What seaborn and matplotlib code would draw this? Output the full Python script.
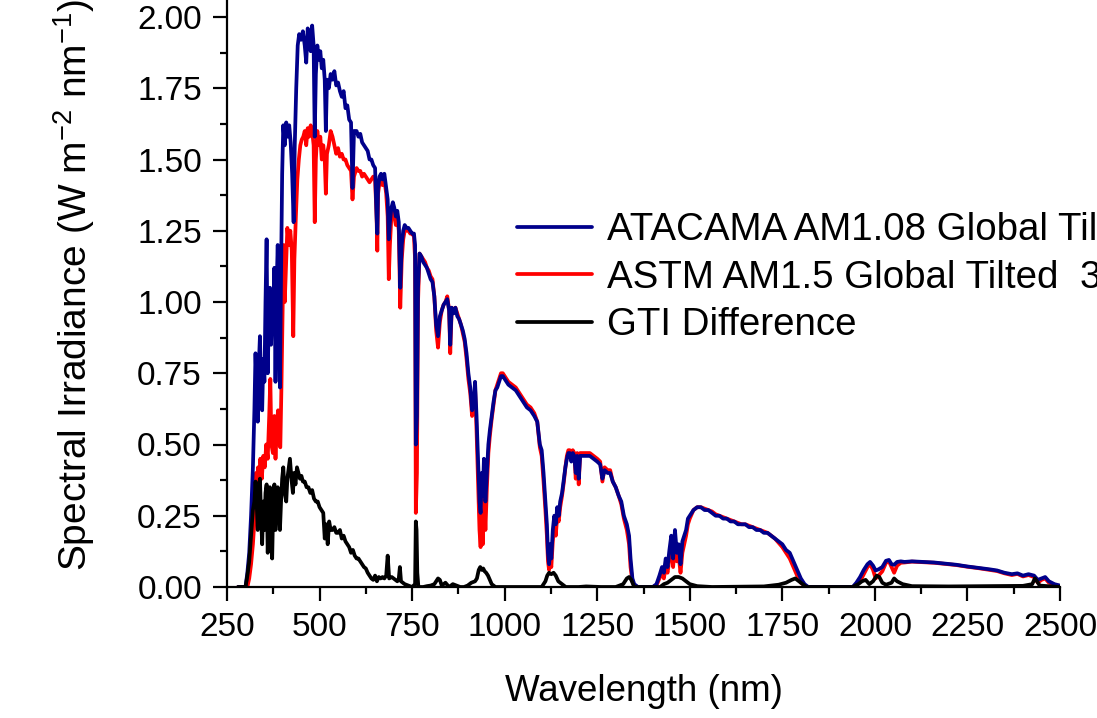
import matplotlib
matplotlib.use("Agg")
import matplotlib.pyplot as plt
from matplotlib.ticker import MultipleLocator, FormatStrFormatter
import seaborn as sns
import pandas as pd

# ---------------- data ----------------
atacama_points = [
    (280,0),(300,0),(305,0.05),(310,0.12),(315,0.25),(320,0.42),(324,0.62),(327,0.82),(330,0.7),(333,0.58),
    (336,0.78),(339,0.88),(342,0.7),(345,0.62),(348,0.8),(351,0.72),(354,1.0),(357,1.22),(360,0.75),(363,0.95),
    (366,1.05),(369,0.85),(372,1.0),(375,0.9),(378,1.12),(381,0.72),(384,1.05),(387,1.2),(390,0.95),(393,0.7),
    (396,1.1),(399,1.45),(402,1.62),(406,1.55),(410,1.63),(414,1.58),(418,1.62),(422,1.56),(426,1.45),(430,1.28),
    (433,1.55),(437,1.75),(441,1.9),(445,1.94),(450,1.92),(455,1.95),(460,1.9),(464,1.84),(468,1.96),(472,1.93),
    (476,1.88),(480,1.97),(484,1.9),(487,1.58),(490,1.8),(494,1.9),(498,1.85),(502,1.88),(506,1.82),(510,1.85),
    (514,1.78),(517,1.6),(520,1.78),(525,1.75),(530,1.8),(535,1.78),(540,1.81),(545,1.76),(550,1.77),(555,1.74),
    (560,1.72),(565,1.74),(570,1.68),(575,1.69),(580,1.64),(585,1.63),(589,1.4),(593,1.6),(600,1.6),(605,1.58),
    (610,1.59),(615,1.56),(620,1.55),(625,1.54),(630,1.53),(635,1.5),(640,1.5),(645,1.48),(650,1.47),(654,1.3),
    (656,1.24),(658,1.4),(662,1.44),(666,1.45),(670,1.43),(675,1.45),(680,1.4),(684,1.36),(687,1.22),(690,1.28),
    (694,1.33),(698,1.35),(702,1.33),(706,1.3),(710,1.32),(714,1.28),(718,1.05),(722,1.2),(726,1.25),(730,1.27),
    (735,1.26),(740,1.26),(745,1.25),(750,1.24),(755,1.24),(758,1.2),(760,0.5),(763,0.6),(766,1.05),(770,1.17),
    (775,1.16),(780,1.14),(785,1.13),(790,1.12),(795,1.1),(800,1.08),(805,1.07),(810,1.02),(815,0.92),(820,0.88),
    (825,0.95),(830,0.97),(835,0.99),(840,1.0),(845,1.01),(850,0.97),(853,0.85),(857,0.98),(862,0.96),(867,0.98),
    (872,0.95),(877,0.94),(882,0.92),(887,0.9),(892,0.87),(897,0.82),(902,0.75),(907,0.7),(912,0.62),(916,0.64),
    (920,0.72),(924,0.6),(928,0.45),(932,0.3),(935,0.26),(938,0.4),(941,0.32),(944,0.45),(948,0.3),(952,0.4),
    (956,0.5),(960,0.55),(965,0.6),(970,0.65),(975,0.69),(980,0.7),(985,0.72),(990,0.74),(995,0.74),(1000,0.73),
    (1010,0.71),(1020,0.7),(1030,0.69),(1040,0.67),(1050,0.65),(1060,0.63),(1070,0.62),(1080,0.6),(1088,0.58),(1095,0.5),
    (1100,0.48),(1105,0.4),(1110,0.3),(1114,0.22),(1117,0.12),(1120,0.08),(1123,0.15),(1126,0.1),(1130,0.2),(1134,0.25),
    (1138,0.22),(1142,0.28),(1146,0.25),(1150,0.3),(1155,0.33),(1160,0.38),(1164,0.42),(1168,0.45),(1172,0.47),(1176,0.47),
    (1180,0.44),(1184,0.47),(1188,0.46),(1192,0.4),(1196,0.46),(1200,0.38),(1204,0.46),(1210,0.46),(1220,0.46),(1230,0.46),
    (1240,0.45),(1250,0.44),(1258,0.43),(1264,0.38),(1270,0.41),(1278,0.4),(1285,0.4),(1292,0.37),(1300,0.35),(1308,0.32),
    (1315,0.3),(1322,0.25),(1330,0.22),(1336,0.18),(1340,0.1),(1345,0.03),(1350,0.01),(1360,0),(1400,0),(1410,0.01),
    (1418,0.04),(1425,0.07),(1430,0.05),(1435,0.1),(1440,0.07),(1445,0.13),(1450,0.18),(1455,0.1),(1460,0.2),(1465,0.12),
    (1470,0.15),(1475,0.08),(1480,0.16),(1485,0.18),(1490,0.2),(1495,0.24),(1500,0.25),(1510,0.27),(1520,0.28),(1530,0.28),
    (1540,0.27),(1550,0.27),(1560,0.26),(1570,0.25),(1580,0.25),(1590,0.24),(1600,0.24),(1610,0.23),(1620,0.23),(1630,0.22),
    (1640,0.22),(1650,0.22),(1660,0.21),(1670,0.21),(1680,0.2),(1690,0.2),(1700,0.19),(1710,0.19),(1720,0.18),(1730,0.17),
    (1740,0.16),(1750,0.15),(1760,0.13),(1770,0.12),(1780,0.09),(1790,0.06),(1800,0.03),(1810,0.01),(1820,0),(1940,0),
    (1950,0.015),(1960,0.035),(1970,0.06),(1980,0.08),(1987,0.088),(1995,0.075),(2002,0.058),(2010,0.062),(2020,0.07),(2030,0.092),
    (2038,0.095),(2045,0.08),(2052,0.078),(2060,0.088),(2070,0.09),(2080,0.088),(2100,0.09),(2130,0.088),(2160,0.086),(2190,0.082),
    (2220,0.078),(2250,0.072),(2280,0.067),(2310,0.062),(2330,0.058),(2350,0.05),(2370,0.045),(2385,0.048),(2400,0.04),(2415,0.045),
    (2430,0.04),(2440,0.025),(2450,0.03),(2460,0.035),(2470,0.02),(2485,0.01),(2500,0.005),
]

astm_points = [
    (280,0),(300,0),(305,0.0),(310,0.03),(315,0.08),(320,0.15),(325,0.25),(328,0.4),(331,0.3),(334,0.42),
    (337,0.35),(340,0.45),(344,0.38),(348,0.46),(352,0.42),(356,0.5),(360,0.45),(364,0.6),(367,0.73),(370,0.5),
    (374,0.47),(378,0.6),(381,0.45),(384,0.56),(388,0.62),(391,0.5),(394,0.49),(397,0.7),(400,0.95),(403,1.2),
    (406,1.0),(410,1.15),(413,1.26),(417,1.2),(421,1.25),(425,1.18),(429,0.88),(432,1.15),(436,1.3),(440,1.43),
    (444,1.5),(448,1.55),(452,1.57),(456,1.58),(460,1.6),(464,1.55),(468,1.61),(472,1.58),(476,1.62),(480,1.6),
    (484,1.55),(487,1.28),(490,1.5),(494,1.6),(498,1.55),(502,1.58),(506,1.5),(510,1.55),(514,1.5),(517,1.38),
    (520,1.52),(525,1.55),(530,1.6),(535,1.58),(540,1.55),(545,1.52),(550,1.54),(555,1.51),(560,1.52),(565,1.5),
    (570,1.5),(575,1.48),(580,1.47),(585,1.46),(589,1.36),(593,1.44),(600,1.47),(605,1.46),(610,1.46),(615,1.44),
    (620,1.45),(625,1.44),(630,1.43),(635,1.42),(640,1.43),(645,1.44),(650,1.43),(654,1.3),(656,1.18),(658,1.38),
    (662,1.42),(666,1.43),(670,1.41),(675,1.43),(680,1.38),(684,1.3),(687,1.08),(690,1.2),(694,1.3),(698,1.33),
    (702,1.3),(706,1.27),(710,1.3),(714,1.25),(718,0.98),(722,1.15),(726,1.22),(730,1.25),(735,1.25),(740,1.25),
    (745,1.24),(750,1.24),(755,1.23),(758,1.15),(760,0.26),(763,0.4),(766,1.0),(770,1.17),
    (775,1.16),(780,1.15),(785,1.14),(790,1.12),(795,1.11),(800,1.09),(805,1.08),(810,1.02),(815,0.9),(820,0.84),
    (825,0.93),(830,0.97),(835,0.99),(840,1.0),(845,1.02),(850,0.97),(853,0.82),(857,0.98),(862,0.97),(867,0.98),
    (872,0.96),(877,0.94),(882,0.92),(887,0.89),(892,0.86),(897,0.8),(902,0.73),(907,0.68),(912,0.6),(916,0.62),
    (920,0.7),(924,0.55),(928,0.38),(932,0.2),(935,0.14),(938,0.3),(941,0.15),(944,0.35),(948,0.2),(952,0.35),
    (956,0.47),(960,0.53),(965,0.59),(970,0.64),(975,0.69),(980,0.71),(985,0.73),(990,0.75),(995,0.75),(1000,0.74),
    (1010,0.72),(1020,0.71),(1030,0.7),(1040,0.68),(1050,0.66),(1060,0.64),(1070,0.63),(1080,0.61),(1088,0.58),(1095,0.49),
    (1100,0.46),(1105,0.37),(1110,0.27),(1114,0.18),(1117,0.09),(1120,0.06),(1123,0.1),(1126,0.07),(1130,0.16),(1134,0.22),
    (1138,0.18),(1142,0.25),(1146,0.23),(1150,0.28),(1155,0.32),(1160,0.37),(1164,0.42),(1168,0.46),(1172,0.48),(1176,0.48),
    (1180,0.45),(1184,0.48),(1188,0.47),(1192,0.38),(1196,0.47),(1200,0.36),(1204,0.47),(1210,0.47),(1220,0.47),(1230,0.47),
    (1240,0.46),(1250,0.45),(1258,0.44),(1264,0.37),(1270,0.42),(1278,0.41),(1285,0.41),(1292,0.37),(1300,0.35),(1308,0.32),
    (1315,0.29),(1322,0.24),(1330,0.2),(1336,0.15),(1340,0.07),(1345,0.02),(1350,0.005),(1360,0),(1400,0),(1410,0.005),
    (1418,0.03),(1425,0.05),(1430,0.03),(1435,0.07),(1440,0.05),(1445,0.1),(1450,0.15),(1455,0.07),(1460,0.16),(1465,0.09),
    (1470,0.11),(1475,0.05),(1480,0.12),(1485,0.15),(1490,0.18),(1495,0.22),(1500,0.24),(1510,0.27),(1520,0.28),(1530,0.28),
    (1540,0.275),(1550,0.27),(1560,0.265),(1570,0.255),(1580,0.25),(1590,0.245),(1600,0.24),(1610,0.235),(1620,0.23),(1630,0.225),
    (1640,0.22),(1650,0.22),(1660,0.215),(1670,0.21),(1680,0.205),(1690,0.2),(1700,0.195),(1710,0.19),(1720,0.18),(1730,0.17),
    (1740,0.155),(1750,0.14),(1760,0.12),(1770,0.1),(1780,0.07),(1790,0.04),(1800,0.015),(1810,0.005),(1820,0),(1940,0),
    (1950,0.005),(1960,0.02),(1970,0.045),(1980,0.07),(1987,0.08),(1995,0.06),(2002,0.03),(2010,0.04),(2020,0.055),(2030,0.085),
    (2038,0.09),(2045,0.07),(2052,0.05),(2060,0.075),(2070,0.085),(2080,0.086),(2100,0.089),(2130,0.087),(2160,0.085),(2190,0.081),
    (2220,0.077),(2250,0.071),(2280,0.066),(2310,0.06),(2330,0.056),(2350,0.048),(2370,0.042),(2385,0.046),(2400,0.037),(2415,0.042),
    (2430,0.035),(2440,0.015),(2450,0.025),(2460,0.03),(2470,0.015),(2485,0.008),(2500,0.003),
]

difference_points = [
    (280,0),(300,0),(305,0.04),(310,0.09),(315,0.18),(320,0.27),(324,0.3),(327,0.37),(330,0.3),(333,0.2),
    (336,0.35),(339,0.38),(342,0.25),(345,0.15),(348,0.3),(351,0.2),(354,0.33),(357,0.36),(360,0.12),(363,0.3),
    (366,0.35),(369,0.22),(372,0.1),(375,0.3),(378,0.36),(381,0.2),(384,0.33),(387,0.35),(390,0.28),(393,0.2),
    (396,0.3),(399,0.38),(402,0.42),(406,0.33),(410,0.3),(413,0.38),(417,0.42),(420,0.45),(424,0.38),(428,0.33),
    (431,0.4),(435,0.36),(439,0.42),(443,0.4),(447,0.38),(451,0.39),(455,0.37),(460,0.37),(465,0.35),(470,0.35),
    (475,0.33),(480,0.34),(485,0.31),(490,0.3),(495,0.3),(500,0.28),(505,0.27),(510,0.26),(514,0.17),(518,0.22),
    (522,0.15),(526,0.23),(530,0.2),(535,0.2),(540,0.21),(545,0.19),(550,0.19),(555,0.2),(560,0.17),(565,0.18),
    (570,0.16),(575,0.15),(580,0.14),(585,0.12),(590,0.13),(595,0.11),(600,0.1),(605,0.1),(610,0.09),(615,0.08),
    (620,0.07),(625,0.065),(630,0.05),(635,0.04),(640,0.03),(645,0.025),(650,0.04),(655,0.02),(660,0.035),(665,0.03),
    (670,0.035),(675,0.03),(680,0.04),(684,0.11),(688,0.03),(695,0.035),(700,0.03),(705,0.025),(710,0.02),(714,0.03),
    (717,0.07),(720,0.02),(725,0.015),(730,0.01),(740,0.005),(750,0.0),(758,0.01),(760,0.23),(762,0.2),(764,0.05),
    (767,0.0),(780,0.0),(790,0.003),(800,0.005),(810,0.01),(815,0.02),(820,0.03),(825,0.025),(830,0.005),(840,0.015),
    (850,0.0),(860,0.01),(870,0.005),(880,0.0),(890,0.0),(900,0.005),(910,0.015),(920,0.02),(925,0.03),(930,0.06),
    (934,0.07),(938,0.06),(942,0.065),(946,0.055),(950,0.05),(955,0.04),(960,0.025),(965,0.01),(975,0.0),(1000,0.0),
    (1100,0.0),(1110,0.02),(1115,0.04),(1120,0.05),(1126,0.045),(1132,0.05),(1138,0.04),(1145,0.02),(1155,0.01),(1165,0.0),
    (1200,0.0),(1220,0.002),(1260,0.0),(1300,0.0),(1320,0.01),(1330,0.03),(1336,0.035),(1342,0.025),(1350,0.0),(1420,0.0),
    (1430,0.01),(1440,0.015),(1450,0.025),(1460,0.035),(1470,0.035),(1480,0.03),(1490,0.02),(1500,0.01),(1520,0.003),(1560,0.0),
    (1700,0.002),(1740,0.008),(1760,0.015),(1775,0.025),(1785,0.03),(1795,0.02),(1805,0.01),(1815,0.0),(1940,0.0),(1955,0.01),
    (1965,0.02),(1975,0.025),(1985,0.01),(1995,0.02),(2005,0.04),(2012,0.035),(2020,0.015),(2030,0.008),(2045,0.015),(2052,0.03),
    (2060,0.02),(2075,0.01),(2100,0.003),(2200,0.002),(2300,0.003),(2400,0.004),(2425,0.01),(2432,0.03),(2438,0.02),(2445,0.005),
    (2500,0.0),
]

series_labels = ["ATACAMA AM1.08 Global Tilted  37\u00b0",
                 "ASTM AM1.5 Global Tilted  37\u00b0",
                 "GTI Difference"]
series_colors = ["#00008B", "#FF0000", "#000000"]

x_label = "Wavelength (nm)"
y_label = "Spectral Irradiance (W m$^{-2}$ nm$^{-1}$)"

# ---------------- figure ----------------
sns.set_style("ticks")
plt.rcParams["font.family"] = ["Liberation Sans", "DejaVu Sans"]
plt.rcParams["mathtext.fontset"] = "custom"
plt.rcParams["mathtext.rm"] = "Liberation Sans"
plt.rcParams["mathtext.default"] = "regular"
plt.rcParams["axes.unicode_minus"] = False
for key in ["text.color", "axes.labelcolor", "xtick.color", "ytick.color", "axes.edgecolor"]:
    plt.rcParams[key] = "black"

fig = plt.figure(figsize=(10.97, 7.18), dpi=100, facecolor="white")
ax = fig.add_axes([227/1097, 1 - 587/718, (1060 - 227)/1097, 587/718])
ax.set_facecolor("white")

def to_df(points):
    return pd.DataFrame(points, columns=["wavelength", "irradiance"])

lw = 2.7
draw_order = [(astm_points, 1), (atacama_points, 0), (difference_points, 2)]
handles = {}
for pts, idx in draw_order:
    df = to_df(pts)
    sns.lineplot(data=df, x="wavelength", y="irradiance", ax=ax, color=series_colors[idx],
                 linewidth=lw, estimator=None, sort=False, label=series_labels[idx], legend=False)
    handles[idx] = ax.lines[-1]

ax.set_xlim(250, 2500)
ax.set_ylim(0, 587/285)
ax.xaxis.set_major_locator(MultipleLocator(250))
ax.xaxis.set_minor_locator(MultipleLocator(125))
ax.yaxis.set_major_locator(MultipleLocator(0.25))
ax.yaxis.set_minor_locator(MultipleLocator(0.125))
ax.yaxis.set_major_formatter(FormatStrFormatter("%.2f"))

for s in ["top", "right"]:
    ax.spines[s].set_visible(False)
for s in ["left", "bottom"]:
    ax.spines[s].set_linewidth(1.6)
    ax.spines[s].set_color("black")

ax.tick_params(which="major", direction="out", length=10, width=1.6, labelsize=24, pad=8,
               color="black", labelcolor="black")
ax.tick_params(which="minor", direction="out", length=5, width=1.6, color="black")

ax.set_xlabel(x_label, fontsize=26.5, labelpad=22)
ax.set_ylabel(y_label, fontsize=28)
ax.yaxis.set_label_coords(-0.156, 0.514)

leg = fig.legend([handles[0], handles[1], handles[2]], series_labels,
                 loc="upper left", bbox_to_anchor=(517/1097, 1 - 212/718),
                 frameon=False, fontsize=27.7, handlelength=1.95, handletextpad=0.4,
                 labelspacing=0.3, borderpad=0, borderaxespad=0)
for line in leg.get_lines():
    line.set_linewidth(2.7)

fig.savefig("out.png", dpi=100, facecolor="white")
